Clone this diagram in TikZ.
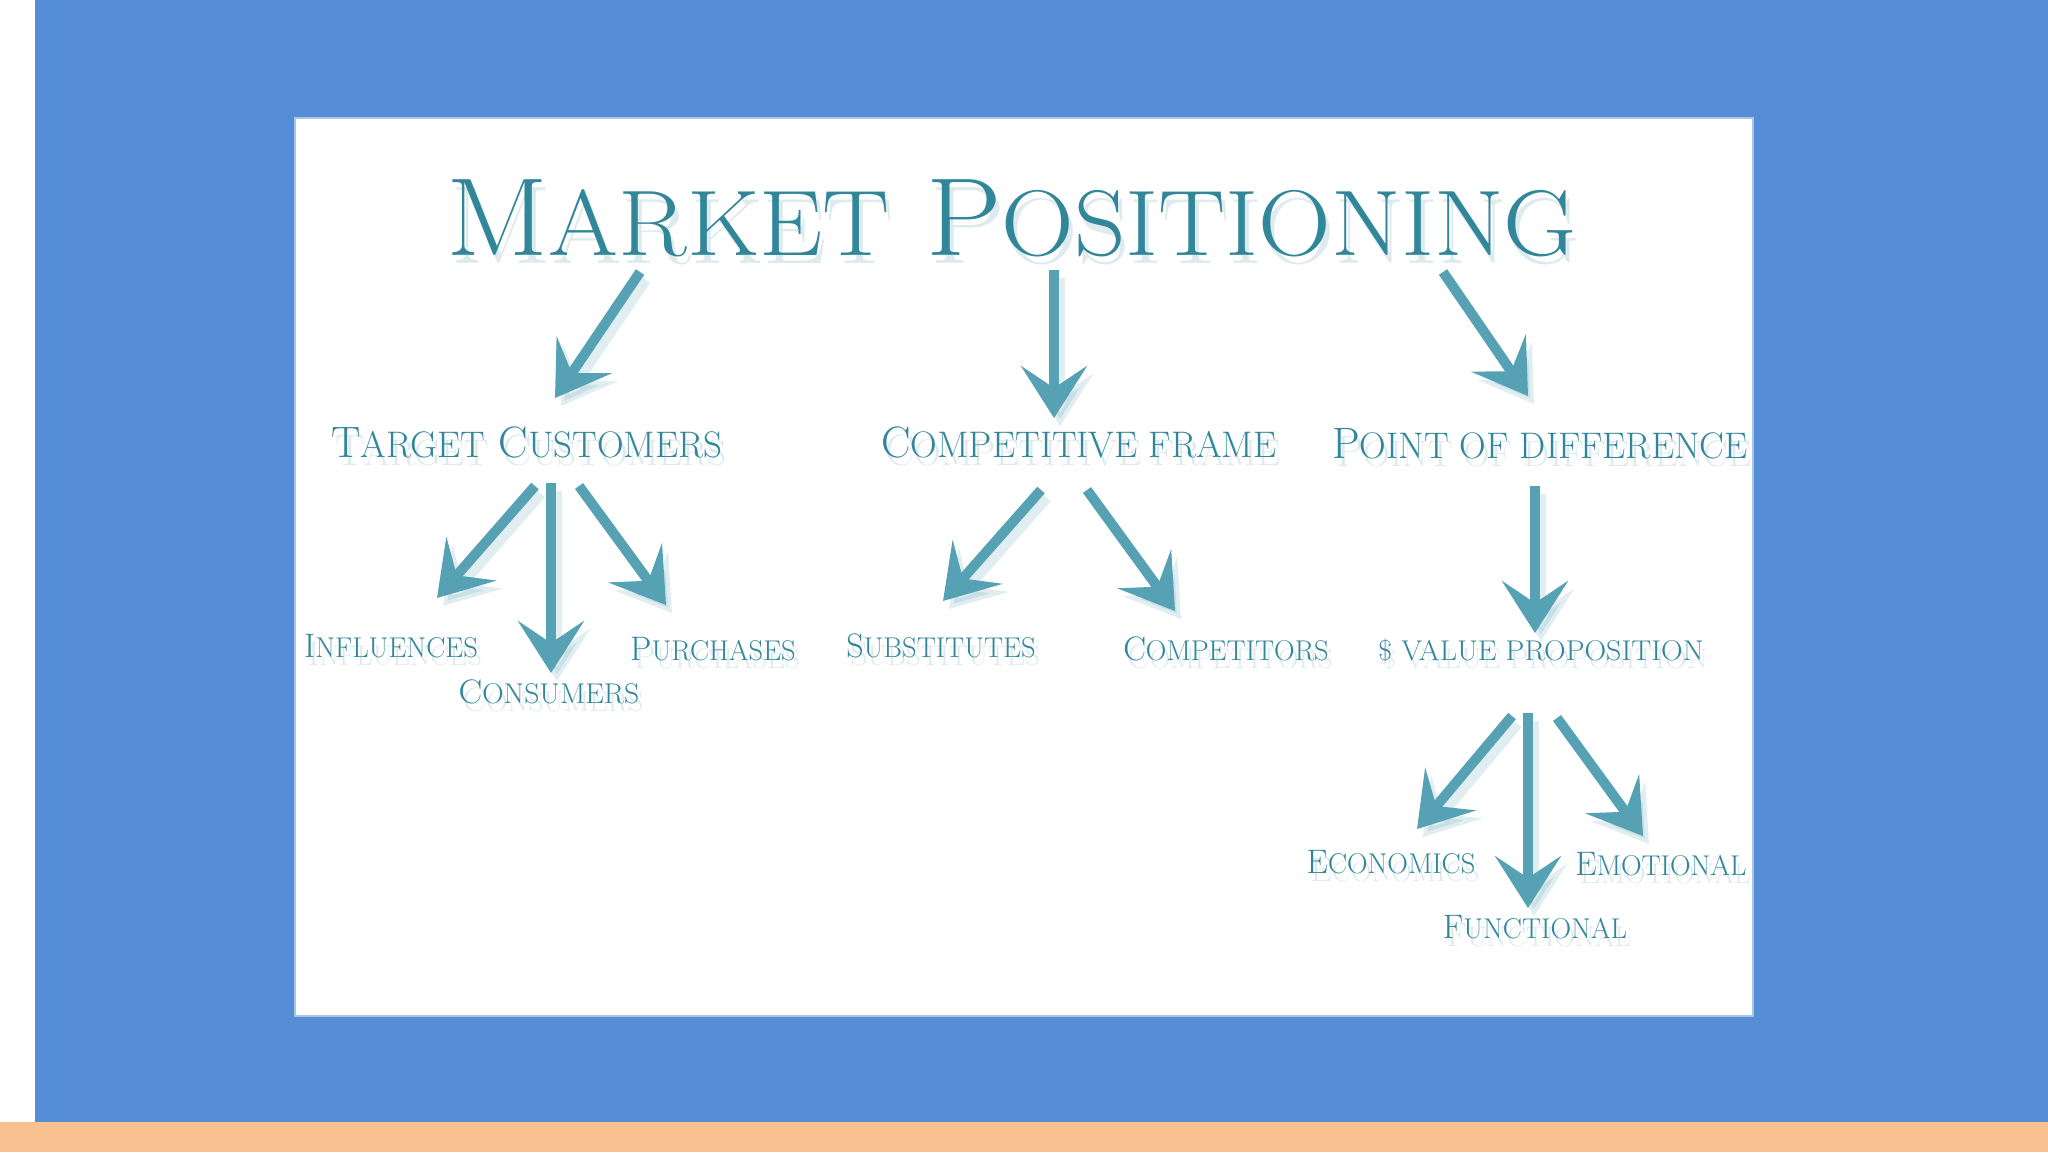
\documentclass[tikz,border=0pt]{standalone}
\usepackage{graphicx}
\usetikzlibrary{calc,arrows.meta}
\definecolor{bgblue}{RGB}{85,142,213}
\definecolor{bandc}{RGB}{249,193,143}
\definecolor{tcol}{RGB}{50,134,153}
\definecolor{acol}{RGB}{86,162,180}
\definecolor{pedge}{RGB}{170,196,236}
\newcommand\sm[1]{\scalebox{0.84}{#1}}
\newcommand\lbl[5]{%
  \node[lblst,opacity=0.16,font=\fontsize{#4}{#4}\selectfont] at (#2+4,#3+8) {#5};
  \node[lblst,font=\fontsize{#4}{#4}\selectfont] (#1) at (#2,#3) {#5};}
\newcommand\arr[2]{%
  \draw[arrst,opacity=0.18,transform canvas={shift={(6pt,-8pt)}}] #1 -- #2;
  \draw[arrst] #1 -- #2;}
\tikzset{
  lblst/.style={anchor=base,inner sep=0pt,text=tcol},
  arrst/.style={draw=acol,line width=10pt,-{Stealth[length=52pt,width=66pt,inset=22pt]}},
}
\begin{document}
\begin{tikzpicture}[x=1pt,y=-1pt]
\useasboundingbox (0,0) rectangle (2048,1152);
\fill[white] (0,0) rectangle (2048,1152);
\fill[bgblue] (35,0) rectangle (2048,1122);
\fill[bandc] (0,1122) rectangle (2048,1152);
\fill[white,draw=pedge,line width=2pt] (295,118) rectangle (1753,1016);

\lbl{title}{1012}{255}{111}{\scalebox{1.08}[1]{M\sm{ARKET} P\sm{OSITIONING}}}
\lbl{tc}{527}{457}{44}{T\sm{ARGET} C\sm{USTOMERS}}
\lbl{cf}{1079}{457}{44}{C\sm{OMPETITIVE FRAME}}
\lbl{pd}{1540}{458}{44}{P\sm{OINT OF DIFFERENCE}}
\lbl{infl}{391}{657}{34}{I\sm{NFLUENCES}}
\lbl{cons}{549}{703}{34}{\scalebox{1.04}[1]{C\sm{ONSUMERS}}}
\lbl{purch}{713}{660}{34}{P\sm{URCHASES}}
\lbl{subs}{941}{657}{34}{S\sm{UBSTITUTES}}
\lbl{comp}{1226}{660}{34}{C\sm{OMPETITORS}}
\lbl{vp}{1541}{660}{34}{\scalebox{1.05}[1]{\sm{\$ VALUE PROPOSITION}}}
\lbl{econ}{1391}{873}{34}{E\sm{CONOMICS}}
\lbl{func}{1535}{938}{34}{F\sm{UNCTIONAL}}
\lbl{emo}{1661}{875}{34}{E\sm{MOTIONAL}}

\arr{($(title.base)+(-372,17)$)}{($(tc.base)+(28,-59)$)}
\arr{($(title.base)+(42,15)$)}{($(cf.base)+(-25,-39)$)}
\arr{($(title.base)+(431,17)$)}{($(pd.base)+(-12,-62)$)}

\arr{($(tc.base)+(8,29)$)}{($(infl.base)+(46,-59)$)}
\arr{($(tc.base)+(24,26)$)}{($(cons.base)+(2,-30)$)}
\arr{($(tc.base)+(52,29)$)}{($(purch.base)+(-47,-55)$)}

\arr{($(cf.base)+(-38,33)$)}{($(subs.base)+(2,-56)$)}
\arr{($(cf.base)+(8,33)$)}{($(comp.base)+(-51,-49)$)}

\arr{($(pd.base)+(-5,28)$)}{($(vp.base)+(-6,-27)$)}

\arr{($(vp.base)+(-29,56)$)}{($(econ.base)+(26,-44)$)}
\arr{($(vp.base)+(-13,53)$)}{($(func.base)+(-7,-30)$)}
\arr{($(vp.base)+(16,58)$)}{($(emo.base)+(-18,-39)$)}
\end{tikzpicture}
\end{document}
